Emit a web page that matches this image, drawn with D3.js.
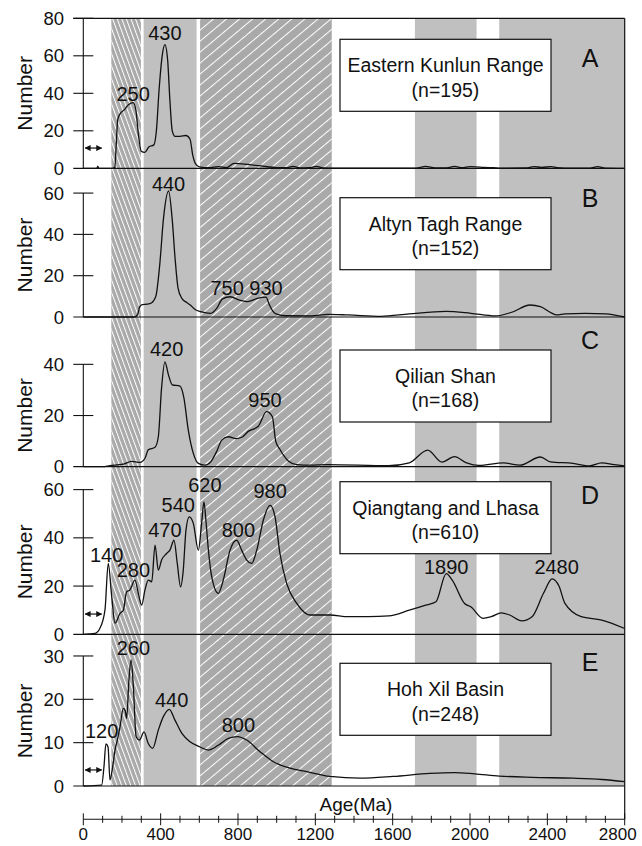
<!DOCTYPE html>
<html>
<head>
<meta charset="utf-8">
<script src="https://cdn.jsdelivr.net/npm/d3@7"></script>
<style>
  body { margin: 0; background: #fff; }
  text { font-family: "Liberation Sans", Arial, sans-serif; fill: #111; }
</style>
</head>
<body>
<svg id="chart" width="642" height="846"></svg>
<script>
// ---- data ----
const panelIds = ["A", "B", "C", "D", "E"];
const regionNames = ["Eastern Kunlun Range", "Altyn Tagh Range", "Qilian Shan", "Qiangtang and Lhasa", "Hoh Xil Basin"];
const sampleN = [195, 152, 168, 610, 248];
const yMax = [80, 72, 58.5, 69.5, 35];
const yTicks = [[0, 20, 40, 60, 80], [0, 20, 40, 60], [0, 20, 40], [0, 20, 40, 60], [0, 10, 20, 30]];
const xTicks = d3.range(0, 2801, 400);

// [age Ma, number]
const curveA = [[0,0],[62,0],[70,0],[75,1.2],[80,0],[150,0],[163,0.5],[170,12],[178,26],[190,29],[210,31],[235,34],[258,35],[272,31],[285,18],[300,9],[318,8.5],[340,11.5],[365,12.5],[378,20],[392,42],[408,60],[422,66],[436,58],[448,36],[460,20],[475,17],[500,17],[530,17.5],[552,15.5],[566,7],[580,2.5],[600,0.8],[650,0.3],[700,0.9],[740,0.4],[780,2.6],[820,2.4],[870,1.8],[920,1.3],[960,0.7],[1000,0.4],[1050,0.3],[1085,1.0],[1120,0.2],[1170,0.3],[1205,1.0],[1240,0.2],[1300,0.1],[1720,0.1],[1770,1.0],[1820,0.2],[1880,0.2],[1920,1.0],[1960,0.3],[2000,0.9],[2030,0.8],[2070,0.5],[2120,0.3],[2160,0.1],[2290,0.2],[2330,0.9],[2370,0.5],[2420,0.9],[2450,0.3],[2490,0.1],[2620,0.1],[2660,0.9],[2700,0.1],[2800,0]];
const curveB = [[0,0],[265,0],[280,1],[292,5],[305,6],[330,6.2],[352,6.8],[375,10],[395,25],[415,48],[441,61],[460,47],[475,28],[490,14],[510,9],[535,7],[553,5.8],[580,3.5],[607,2.6],[659,1.8],[690,4.2],[720,8.8],[760,9.8],[808,8.2],[850,7.4],[900,9],[945,9.6],[962,6],[980,2.8],[1000,1.4],[1050,0.6],[1180,0.5],[1263,1.3],[1370,1.0],[1540,0.3],[1685,1.5],[1876,2.7],[2004,1.8],[2131,0.5],[2216,2.3],[2310,5.8],[2364,5],[2420,2],[2448,1.0],[2491,1.5],[2596,1.8],[2702,1.5],[2800,0]];
const curveC = [[0,0],[100,0],[138,0.4],[207,1],[250,2.1],[293,1.7],[319,3.3],[336,6.6],[371,7.6],[388,11.7],[405,31],[422,41],[440,36],[460,32],[500,31.5],[520,27],[543,14.3],[569,5.2],[595,1.3],[629,0.6],[660,2],[690,6],[716,10.4],[750,11.7],[790,11],[820,11.5],[853,13.8],[905,15.8],[948,21.5],[978,19.5],[995,10],[1015,7],[1040,4],[1060,2.2],[1104,0.8],[1172,0.6],[1263,0.8],[1580,0.4],[1686,1.5],[1781,6.5],[1855,1.8],[1919,3.9],[1982,1.5],[2046,0.5],[2173,1.5],[2258,0.6],[2364,3.8],[2416,1.9],[2533,1.3],[2617,0.3],[2681,1.5],[2745,0.8],[2800,0.3]];
const curveD = [[0,0],[61,0.4],[86,2.5],[112,10],[129,29.4],[147,15.6],[164,4.6],[190,8.7],[207,10],[224,17.6],[241,18.4],[267,22.5],[285,16.8],[302,12.1],[319,18.4],[336,22.5],[354,21.8],[371,37],[388,26.6],[405,30.8],[431,33.5],[448,34.9],[469,39],[486,29.4],[503,19.7],[517,26.6],[531,43.2],[548,48.7],[569,46],[595,34.9],[612,46],[624,54.9],[634,47.3],[647,34.9],[664,23.9],[698,17],[724,22.5],[759,34.9],[793,39],[819,34.9],[845,30.8],[871,29.4],[897,34.9],[931,47.3],[966,53.5],[991,49],[1017,33.5],[1052,21],[1104,12.8],[1172,8],[1276,8],[1369,7.3],[1474,7.3],[1580,7.6],[1686,10],[1771,12.1],[1824,13.5],[1877,25.2],[1908,22.5],[1972,12.8],[2004,11.4],[2067,6.6],[2110,7.3],[2162,8.9],[2205,8],[2268,5.6],[2321,7.3],[2380,17],[2425,23],[2460,20],[2491,12.8],[2575,7.3],[2681,5.9],[2800,2.4]];
const curveE = [[0,0],[95,0.2],[107,4.5],[117,9.7],[128,9],[138,1.4],[152,4.5],[164,8.3],[176,10.6],[190,13.7],[207,17.9],[216,17.5],[224,15.6],[236,24.5],[247,29.1],[259,22.9],[273,11.4],[290,10.6],[314,12.5],[336,9.8],[359,8.7],[388,12.9],[414,16],[445,17.7],[474,15.2],[509,12.2],[552,10.2],[604,9],[647,8.3],[698,9.4],[750,11],[797,11.4],[845,10.6],[914,7.9],[983,5.6],[1069,4.1],[1155,3.3],[1276,2.2],[1432,1.8],[1602,2.2],[1792,2.9],[1919,3.1],[2025,2.8],[2152,2.3],[2321,2.0],[2533,1.8],[2681,1.5],[2800,1.0]];
const curves = [curveA, curveB, curveC, curveD, curveE];

// peak labels: [text, age, number]
const peaksA = [["250", 258, 40], ["430", 422, 72.5]];
const peaksB = [["440", 441, 64.6], ["750", 744, 13.9], ["930", 945, 13.9]];
const peaksC = [["420", 431, 46.2], ["950", 940, 26]];
const peaksD = [["140", 121, 32.8], ["280", 259, 26.6], ["470", 422, 43.5], ["540", 491, 53.5], ["620", 629, 61.8], ["800", 802, 43.5], ["980", 966, 59.5], ["1890", 1877, 28], ["2480", 2448, 28]];
const peaksE = [["120", 95, 12.8], ["260", 259, 31.8], ["440", 457, 20], ["800", 802, 14.1]];
const peaks = [peaksA, peaksB, peaksC, peaksD, peaksE];

// shaded age intervals (Ma)
const bandStart = [145, 312, 604, 1715, 2151];
const bandEnd = [298, 586, 1285, 2034, 2800];
const bandKind = ["steep", "plain", "wide", "plain", "plain"];

// double arrows: [panel index, from age, to age, number]
const arrows = [[0, 10, 95, 10.8], [3, 10, 95, 8.4], [4, 10, 95, 3.7]];

// ---- layout ----
const svg = d3.select("#chart");
const X0 = 83.3, X1 = 624.7;
const panelTop = [18.3, 168.3, 317, 466.7, 634.3];
const panelBase = [168.3, 317, 466.7, 634.3, 786];
const axisY = 819.3;

const x = d3.scaleLinear().domain([0, 2800]).range([X0, X1]);
const yScales = panelIds.map((p, i) => d3.scaleLinear().domain([0, yMax[i]]).range([panelBase[i], panelTop[i]]));

const defs = svg.append("defs");
function hatch(id, spacing, angle) {
  const pat = defs.append("pattern").attr("id", id)
    .attr("patternUnits", "userSpaceOnUse")
    .attr("width", spacing).attr("height", 10)
    .attr("patternTransform", "rotate(" + angle + ")");
  pat.append("line").attr("x1", 0.5).attr("x2", 0.5).attr("y1", 0).attr("y2", 10)
    .attr("stroke", "#fff").attr("stroke-width", 1);
}
hatch("steep", 4.3, -20);
hatch("wide", 8.4, 50);

// bands
const bandData = bandStart.map((s, i) => ({ s: s, e: bandEnd[i], k: bandKind[i] }));
const bands = svg.append("g");
bands.selectAll("rect.base").data(bandData).enter().append("rect")
  .attr("x", d => x(d.s)).attr("width", d => x(d.e) - x(d.s))
  .attr("y", panelTop[0]).attr("height", panelBase[4] - panelTop[0])
  .attr("fill", d => d.k === "plain" ? "#c0c0c0" : "#a9a9a9");
bands.selectAll("rect.hatch").data(bandData.filter(d => d.k !== "plain")).enter().append("rect")
  .attr("x", d => x(d.s)).attr("width", d => x(d.e) - x(d.s))
  .attr("y", panelTop[0]).attr("height", panelBase[4] - panelTop[0])
  .attr("fill", d => "url(#" + d.k + ")");

// frame: top line, right line
svg.append("line").attr("x1", X0 - 10).attr("x2", X1).attr("y1", panelTop[0]).attr("y2", panelTop[0])
  .attr("stroke", "#111").attr("stroke-width", 1.2);
svg.append("line").attr("x1", X1).attr("x2", X1).attr("y1", panelTop[0]).attr("y2", axisY)
  .attr("stroke", "#111").attr("stroke-width", 1.2);

const line = d3.line().x(d => x(d[0])).curve(d3.curveMonotoneX);

panelIds.forEach((id, i) => {
  const y = yScales[i];
  const g = svg.append("g");
  const ticks = yTicks[i];
  const topTick = ticks[ticks.length - 1];

  // baseline
  g.append("line").attr("x1", X0 - 10).attr("x2", X1).attr("y1", y(0)).attr("y2", y(0))
    .attr("stroke", "#111").attr("stroke-width", 1.2);
  // y axis line
  g.append("line").attr("x1", X0).attr("x2", X0).attr("y1", y(0)).attr("y2", y(topTick))
    .attr("stroke", "#111").attr("stroke-width", 1.1);
  g.selectAll("line.tk").data(ticks.filter(t => t > 0)).enter().append("line")
    .attr("x1", X0 - 10).attr("x2", X0 + 10).attr("y1", d => y(d)).attr("y2", d => y(d))
    .attr("stroke", "#111").attr("stroke-width", 1.1);
  g.selectAll("text.tk").data(ticks).enter().append("text")
    .attr("x", 64).attr("y", d => y(d)).attr("dy", "0.36em")
    .attr("text-anchor", "end").attr("font-size", 18.5).text(d => d);

  // y title
  const cy = (y(0) + y(topTick)) / 2;
  g.append("text").attr("transform", "translate(24," + cy + ") rotate(-90)")
    .attr("text-anchor", "middle").attr("dy", "0.36em").attr("font-size", 21).text("Number");

  // curve
  g.append("path").datum(curves[i])
    .attr("d", line.y(d => y(d[1])))
    .attr("fill", "none").attr("stroke", "#111").attr("stroke-width", 1.3);

  // peak labels
  g.selectAll("text.pk").data(peaks[i]).enter().append("text")
    .attr("x", d => x(d[1])).attr("y", d => y(d[2])).attr("dy", "0.36em")
    .attr("text-anchor", "middle").attr("font-size", 20).text(d => d[0]);

  // legend box
  const bx = 340, bw = 211, bh = 72;
  const boxTop = [39.3, 197.7, 350, 481.7, 663.3][i];
  g.append("rect").attr("x", bx).attr("y", boxTop).attr("width", bw).attr("height", bh)
    .attr("fill", "#fff").attr("stroke", "#111").attr("stroke-width", 1.2);
  g.append("text").attr("x", bx + bw / 2).attr("y", boxTop + bh * 0.36).attr("dy", "0.36em")
    .attr("text-anchor", "middle").attr("font-size", 19.5).text(regionNames[i]);
  g.append("text").attr("x", bx + bw / 2).attr("y", boxTop + bh * 0.7).attr("dy", "0.36em")
    .attr("text-anchor", "middle").attr("font-size", 19.5).text("(n=" + sampleN[i] + ")");

  // panel letter
  g.append("text").attr("x", 590).attr("y", [58, 198, 340, 495, 662][i]).attr("dy", "0.36em")
    .attr("text-anchor", "middle").attr("font-size", 25).text(id);
});

// double arrows
defs.append("marker").attr("id", "ah").attr("viewBox", "0 0 10 10")
  .attr("refX", 9).attr("refY", 5).attr("markerWidth", 5).attr("markerHeight", 5)
  .attr("orient", "auto-start-reverse")
  .append("path").attr("d", "M0,0L10,5L0,10z").attr("fill", "#111");
svg.selectAll("line.arrow").data(arrows).enter().append("line")
  .attr("x1", d => x(d[1])).attr("x2", d => x(d[2]))
  .attr("y1", d => yScales[d[0]](d[3])).attr("y2", d => yScales[d[0]](d[3]))
  .attr("stroke", "#111").attr("stroke-width", 1.2)
  .attr("marker-start", "url(#ah)").attr("marker-end", "url(#ah)");

// bottom axis
const ax = svg.append("g");
ax.append("line").attr("x1", X0).attr("x2", X1).attr("y1", axisY).attr("y2", axisY)
  .attr("stroke", "#111").attr("stroke-width", 1.1);
ax.selectAll("line.minor").data(d3.range(0, 2801, 100)).enter().append("line")
  .attr("x1", d => x(d)).attr("x2", d => x(d))
  .attr("y1", d => d % 400 === 0 ? axisY - 6 : axisY - 3.5)
  .attr("y2", d => d % 400 === 0 ? axisY + 6 : axisY + 3.5)
  .attr("stroke", "#111").attr("stroke-width", 1);
ax.selectAll("text").data(xTicks).enter().append("text")
  .attr("x", d => x(d)).attr("y", 834).attr("dy", "0.36em")
  .attr("dx", d => d === 2800 ? -7 : 0)
  .attr("text-anchor", "middle").attr("font-size", 17).text(d => d);
svg.append("text").attr("x", 356).attr("y", 804).attr("dy", "0.36em")
  .attr("text-anchor", "middle").attr("font-size", 19).text("Age(Ma)");
</script>
</body>
</html>
